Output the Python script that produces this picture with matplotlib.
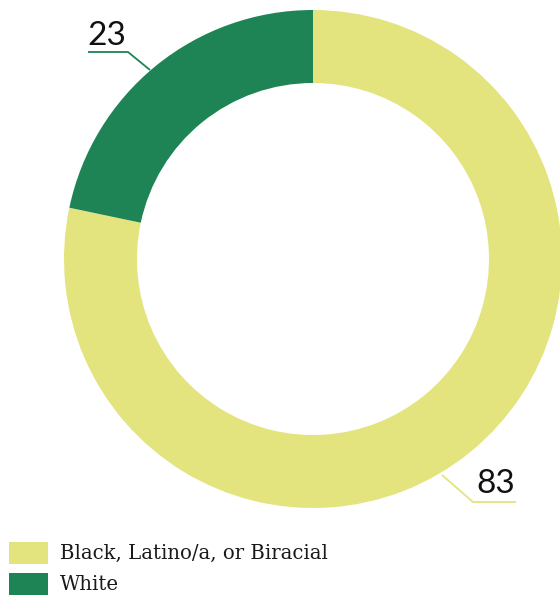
import numpy as np
import matplotlib.pyplot as plt
from matplotlib.patches import Rectangle

# ================= Data =================
categories = ["Black, Latino/a, or Biracial", "White"]
values = [83, 23]
colors = ["#e3e47d", "#1f8455"]

W, H = 560, 596
# donut geometry in pixels (y measured from the top)
CX, CY = 313, 259
R_OUT, R_IN = 249, 176


def up(y):
    # pixel y (top-down) -> axes y (bottom-up)
    return H - y


fig = plt.figure(figsize=(W / 100, H / 100), dpi=100)
ax = fig.add_axes([0, 0, 1, 1])

wedges, _ = ax.pie(values, colors=colors, startangle=90, counterclock=False,
                   center=(CX, up(CY)), radius=R_OUT,
                   wedgeprops=dict(width=R_OUT - R_IN, linewidth=0))

ax.set_xlim(0, W)
ax.set_ylim(0, H)
ax.set_aspect('equal')
ax.axis('off')

# --- value labels with elbow leaders ---
num_font = dict(family=['Lato', 'DejaVu Sans'], fontweight='normal', fontsize=24)

# White (23), upper left
ax.plot([88, 128, 150], [up(52), up(52), up(70)], color=colors[1], lw=1.3,
        solid_capstyle='butt')
ax.text(87, up(45), str(values[1]), ha='left', va='baseline', color='#111111',
        **num_font)

# Black, Latino/a, or Biracial (83), lower right
ax.plot([442, 473, 516], [up(475), up(502), up(502)], color=colors[0], lw=1.3,
        solid_capstyle='butt')
ax.text(476, up(493), str(values[0]), ha='left', va='baseline', color='#111111',
        **num_font)

# --- legend ---
for i, (lab, col) in enumerate(zip(categories, colors)):
    top = 542 + i * 31
    ax.add_patch(Rectangle((9, up(top + 22)), 39, 22, facecolor=col,
                           edgecolor='none'))
    ax.text(60, up(top + 17), lab, ha='left', va='baseline', color='#1a1a1a',
            family='DejaVu Serif', fontsize=14.2)

fig.savefig('out.png', dpi=100)
